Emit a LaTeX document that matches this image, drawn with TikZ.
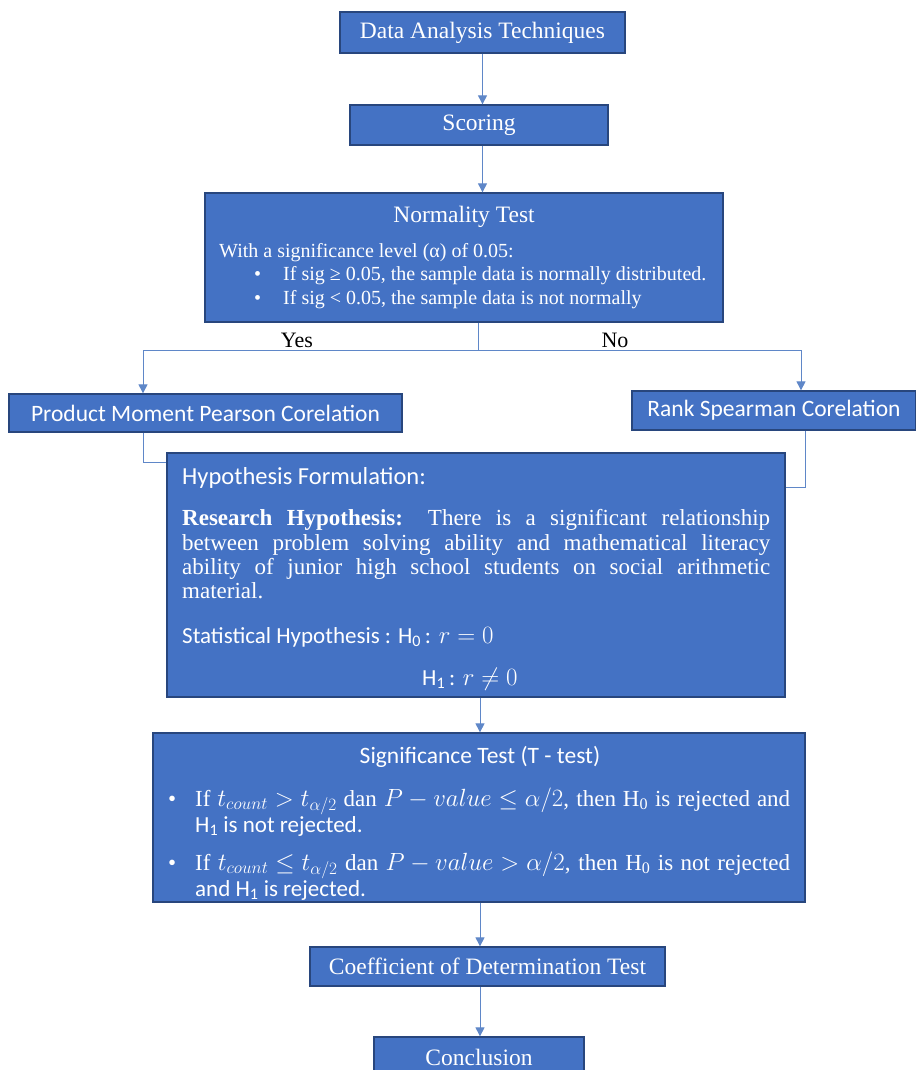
\documentclass[tikz,border=0pt]{standalone}
\usepackage{fontspec}
\setmainfont{Liberation Serif}
\newfontfamily\calib{Carlito}
\usetikzlibrary{arrows.meta}
\definecolor{boxblue}{RGB}{68,114,196}
\definecolor{boxedge}{RGB}{40,70,125}
\definecolor{lineblue}{RGB}{95,135,200}
\newcommand{\bigfont}{\fontsize{23.5}{28}\selectfont}
\newcommand{\bodyfont}{\fontsize{20}{24}\selectfont}
\newcommand{\parfont}{\fontsize{23}{27}\selectfont}
\newcommand{\hsub}[1]{\textsubscript{#1}}
\begin{document}
\begin{tikzpicture}[x=1pt,y=-1pt,
  box/.style={draw=boxedge,fill=boxblue,line width=1.3pt,inner sep=0pt,text=white,font=\bigfont},
  txt/.style={text=white,inner sep=0pt,anchor=base west,font=\bodyfont},
  link/.style={draw=lineblue,line width=1pt},
  arr/.style={link,-{Triangle[width=9pt,length=9pt]}}]
  \useasboundingbox (0,0) rectangle (915,1070);
  % boxes
  \node[box,minimum width=285,minimum height=41] (dat) at (482.5,32.5) {Data Analysis Techniques};
  \node[box,minimum width=258,minimum height=40] (score) at (479,125) {Scoring};
  \node[box,minimum width=518,minimum height=129] (norm) at (464,257.5) {};
  \node[box,minimum width=393,minimum height=38,font=\calib\bigfont] (pear) at (205.5,413) {Product Moment Pearson Corelation};
  \node[box,minimum width=284,minimum height=39,font=\calib\bigfont] (spear) at (774,410.5) {Rank Spearman Corelation};
  \node[box,minimum width=618,minimum height=244] (hyp) at (476,575) {};
  \node[box,minimum width=652,minimum height=169] (sig) at (479,817.5) {};
  \node[box,minimum width=355,minimum height=39] (coef) at (487.5,966.5) {Coefficient of Determination Test};
  \node[box,minimum width=210,minimum height=40] (concl) at (479,1057) {Conclusion};
  % normality test
  \node[txt,anchor=base,font=\bigfont] (normtitle) at (464,222) {Normality Test};
  \node[txt] (normlvl) at (219,257) {With a significance level (α) of 0.05:};
  \node[txt] (normb1) at (254,280) {•};
  \node[txt] (norma) at (283,280) {If sig ≥ 0.05, the sample data is normally distributed.};
  \node[txt] (normb2) at (254,304) {•};
  \node[txt] (normb) at (283,304) {If sig < 0.05, the sample data is not normally};
  % hypothesis formulation
  \node[txt,font=\calib\fontsize{24.5}{28}\selectfont] (hyptitle) at (182,484) {Hypothesis Formulation:};
  \node[txt,font=\parfont] (res1) at (182,525) {\makebox[588pt][s]{\textbf{Research Hypothesis:} There is a significant relationship}};
  \node[txt,font=\parfont] (res2) at (182,550) {\makebox[588pt][s]{between problem solving ability and mathematical literacy}};
  \node[txt,font=\parfont] (res3) at (182,574) {\makebox[588pt][s]{ability of junior high school students on social arithmetic}};
  \node[txt,font=\parfont] (res4) at (182,598) {material.};
  \node[txt,font=\parfont] (stat0) at (182,643) {{\calib\fontsize{23}{27}\selectfont Statistical Hypothesis~: H\hsub{0}\,:} $r=0$};
  \node[txt,font=\parfont] (stat1) at (422,685) {{\calib\fontsize{23}{27}\selectfont H\hsub{1}\,:} $r\neq 0$};
  % significance test
  \node[txt,anchor=base,font=\calib\bigfont] (sigtitle) at (480,763) {Significance Test (T - test)};
  \node[txt,font=\parfont] (sigb1) at (168,806) {•};
  \node[txt,font=\parfont] (sig1) at (195,806) {\makebox[595pt][s]{If \mbox{$t_{count}>t_{\alpha/2}$} dan \mbox{$P-value\le\alpha/2$}, then H\hsub{0} is rejected and}};
  \node[txt,font=\calib\fontsize{23}{27}\selectfont] (sig2) at (195,832) {H\hsub{1} is not rejected.};
  \node[txt,font=\parfont] (sigb2) at (168,870) {•};
  \node[txt,font=\parfont] (sig3) at (195,870) {\makebox[595pt][s]{If \mbox{$t_{count}\le t_{\alpha/2}$} dan \mbox{$P-value>\alpha/2$}, then H\hsub{0} is not rejected}};
  \node[txt,font=\calib\fontsize{23}{27}\selectfont] (sig4) at (195,896) {and H\hsub{1} is rejected.};
  % yes / no
  \node[inner sep=0pt,anchor=base,font=\fontsize{22}{26}\selectfont] (yes) at (297,347) {Yes};
  \node[inner sep=0pt,anchor=base,font=\fontsize{22}{26}\selectfont] (no) at (615,347) {No};
  % connectors
  \coordinate (split) at (478,350);
  \coordinate (yesend) at (143,350);
  \coordinate (noend) at (801,350);
  \coordinate (spine) at (480,0);
  \draw[arr] (dat.south) -- (dat.south |- score.north);
  \draw[arr] (dat.south |- score.south) -- (dat.south |- norm.north);
  \draw[link] (split |- norm.south) -- (split);
  \draw[arr] (split) -- (yesend) -- (yesend |- pear.north);
  \draw[arr] (split) -- (noend) -- (noend |- spear.north);
  \draw[link] (yesend |- pear.south) |- ([yshift=-10pt]hyp.north west);
  \draw[link] ([xshift=4pt]noend |- spear.south) |- ([yshift=-35pt]hyp.north east);
  \draw[arr] (spine |- hyp.south) -- (spine |- sig.north);
  \draw[arr] (spine |- sig.south) -- (spine |- coef.north);
  \draw[arr] (spine |- coef.south) -- (spine |- concl.north);
\end{tikzpicture}
\end{document}
